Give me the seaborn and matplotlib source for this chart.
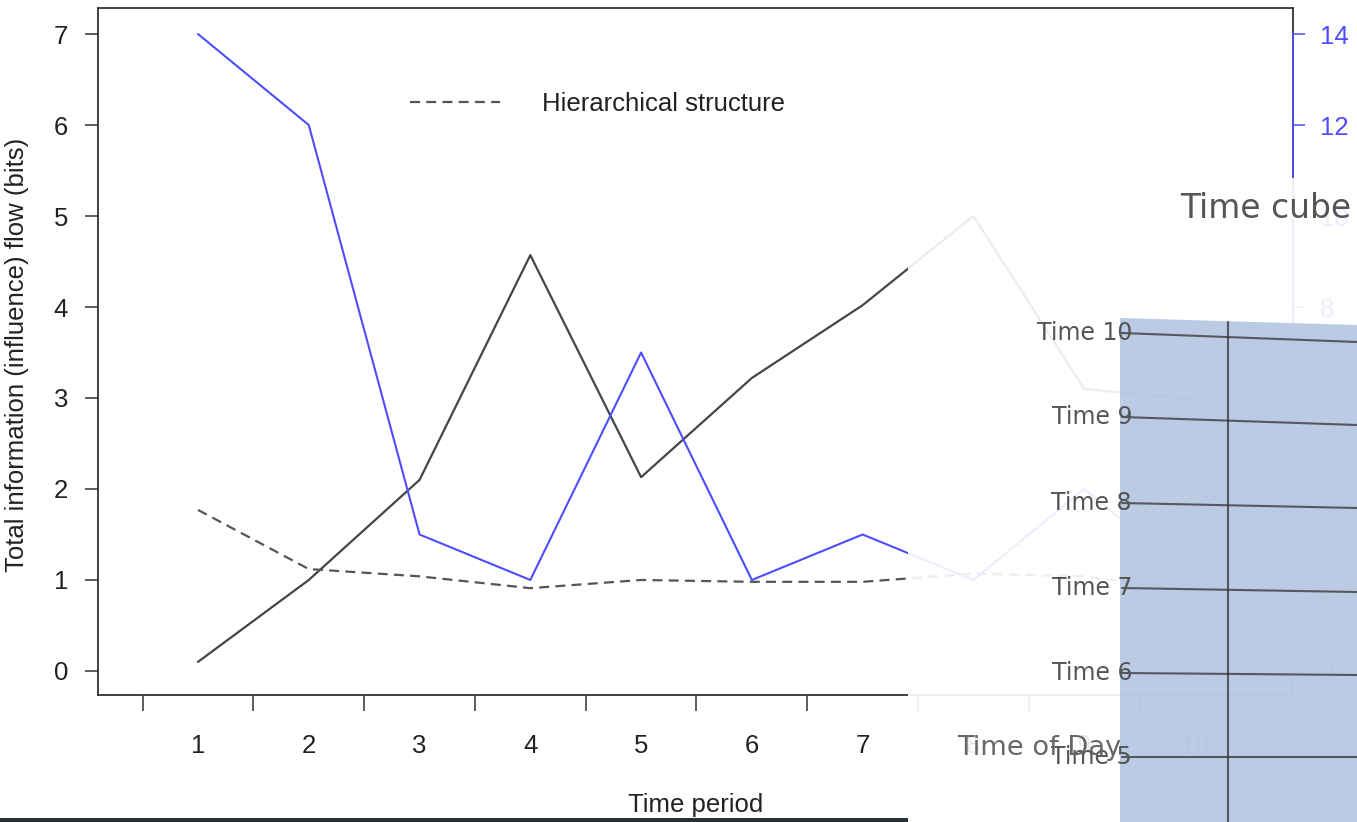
import numpy as np
import pandas as pd
import matplotlib
matplotlib.use("Agg")
import matplotlib.pyplot as plt
import seaborn as sns
from matplotlib.patches import Rectangle, Polygon
from matplotlib.lines import Line2D
from matplotlib.transforms import Affine2D
from matplotlib.ticker import FixedLocator, FixedFormatter

# ---------------- data ----------------
periods = [1, 2, 3, 4, 5, 6, 7, 8, 9, 10]
total_flow = [0.1, 1.0, 2.1, 4.57, 2.13, 3.22, 4.02, 5.0, 3.1, 2.98]
hier_structure = [1.77, 1.12, 1.04, 0.91, 1.0, 0.98, 0.98, 1.07, 1.04, 0.89]
right_series = [14, 12, 3, 2, 7, 2, 3, 2, 4, 2]
x_tick_labels = ["1", "2", "3", "4", "5", "6", "7", "8", "9", "10"]
x_boundaries = [0.5, 1.5, 2.5, 3.5, 4.5, 5.5, 6.5, 7.5, 8.5, 9.5, 10.5]
left_ticks = [0, 1, 2, 3, 4, 5, 6, 7]
right_ticks = [0, 2, 4, 6, 8, 10, 12, 14]
legend_label = "Hierarchical structure"
cube_labels = ["Time 10", "Time 9", "Time 8", "Time 7", "Time 6", "Time 5"]

# ---------------- style ----------------
sns.set_style("white")
plt.rcParams["font.family"] = ["Liberation Sans", "DejaVu Sans"]

W, H = 1357, 822
FS = 18.5
fig = plt.figure(figsize=(W / 100, H / 100), dpi=100)
ax = fig.add_axes([98 / W, (H - 695) / H, (1293 - 98) / W, (695 - 8) / H])

df = pd.DataFrame({"period": periods, "flow": total_flow,
                   "hier": hier_structure, "right": right_series})

BLUE = "#4d4dff"
sns.lineplot(data=df, x="period", y="flow", ax=ax, color="#454545", lw=1.6)
sns.lineplot(data=df, x="period", y="hier", ax=ax, color="#555555", lw=1.6,
             linestyle=(0, (4.5, 2.8)), label=legend_label)

ax2 = ax.twinx()
sns.lineplot(data=df, x="period", y="right", ax=ax2, color=BLUE, lw=1.5)

ax.set_xlim(0.0973, 10.885)
ax.set_ylim(-0.264, 7.286)
ax2.set_ylim(-0.528, 14.572)

# spines
for s in ax.spines.values():
    s.set_visible(True)
    s.set_color("#333333")
    s.set_linewidth(1.3)
for k in ["left", "top", "bottom"]:
    ax2.spines[k].set_visible(False)
ax2.spines["right"].set_visible(True)
ax2.spines["right"].set_color(BLUE)
ax2.spines["right"].set_linewidth(1.3)
ax2.spines["right"].set_bounds(0, 14)

# left axis
ax.set_yticks(left_ticks)
ax.set_yticklabels([str(t) for t in left_ticks])
ax.tick_params(axis="y", which="major", left=True, direction="out", length=9.5,
               width=1.1, color="#333333", labelsize=FS, pad=12, labelcolor="#222222")

# x axis: ticks at boundaries, labels at periods
ax.xaxis.set_major_locator(FixedLocator(x_boundaries))
ax.xaxis.set_major_formatter(FixedFormatter([""] * len(x_boundaries)))
ax.xaxis.set_minor_locator(FixedLocator(periods))
ax.xaxis.set_minor_formatter(FixedFormatter(x_tick_labels))
ax.tick_params(axis="x", which="major", bottom=True, direction="out", length=11.5,
               width=1.1, color="#333333")
ax.tick_params(axis="x", which="minor", bottom=True, length=0, pad=28,
               labelsize=FS, labelcolor="#222222")

# right axis
ax2.set_yticks(right_ticks)
ax2.set_yticklabels([str(t) for t in right_ticks])
ax2.tick_params(axis="y", right=True, direction="out", length=8.6, width=1.1,
                color=BLUE, labelcolor=BLUE, labelsize=FS, pad=11)
ax2.set_ylabel("")

ax.set_xlabel("Time period", fontsize=FS, color="#222222")
ax.xaxis.set_label_coords(0.5, -0.142)
ax.set_ylabel("Total information (influence) flow (bits)", fontsize=FS, color="#222222")
ax.yaxis.set_label_coords(-0.058, 0.495)

handles, labels = ax.get_legend_handles_labels()
ax.legend(handles=handles, labels=labels, loc="center left",
          bbox_to_anchor=((410 - 98) / 1195, (695 - 104) / 687),
          frameon=False, borderpad=0, borderaxespad=0, handlelength=3.5,
          handletextpad=1.65, fontsize=FS, labelcolor="#222222")

# ---------------- overlay (pasted "Time cube" graphic) ----------------
tr = Affine2D().scale(1 / W, -1 / H).translate(0, 1) + fig.transFigure

fig.add_artist(Rectangle((908, 178), W - 908, H - 178, transform=tr,
                         facecolor="white", edgecolor="none", alpha=0.9, zorder=5))
fig.add_artist(Rectangle((0, 818), 908, 4, transform=tr,
                         facecolor="#263238", edgecolor="none", zorder=5))
fig.add_artist(Polygon([(1120, 318), (W, 325), (W, H), (1120, H)], closed=True,
                       transform=tr, facecolor="#a9bfdc", edgecolor="none",
                       alpha=0.8, zorder=6))
fig.add_artist(Line2D([1228, 1228], [322, H], transform=tr, color="#333333",
                      alpha=0.75, lw=1.5, zorder=7))
cube_rows = [(333, 342), (417, 425), (503, 508), (588, 592), (673, 675), (757, 757)]
for lab, (yl, yr) in zip(cube_labels, cube_rows):
    fig.add_artist(Line2D([1122, W], [yl, yr], transform=tr, color="#333333",
                          alpha=0.75, lw=1.5, zorder=7))
    fig.text(1132, yl, lab, transform=tr, ha="right", va="center",
             fontsize=17, color="#555555", family="DejaVu Sans", zorder=8)

fig.text(1180, 208, "Time cube", transform=tr, ha="left", va="center",
         fontsize=23.7, color="#555555", family="DejaVu Sans", zorder=8)
fig.text(1039, 748, "Time of Day", transform=tr, ha="center", va="center",
         fontsize=19.6, color="#666666", family="DejaVu Sans", zorder=8)

fig.savefig("out.png", dpi=100)
